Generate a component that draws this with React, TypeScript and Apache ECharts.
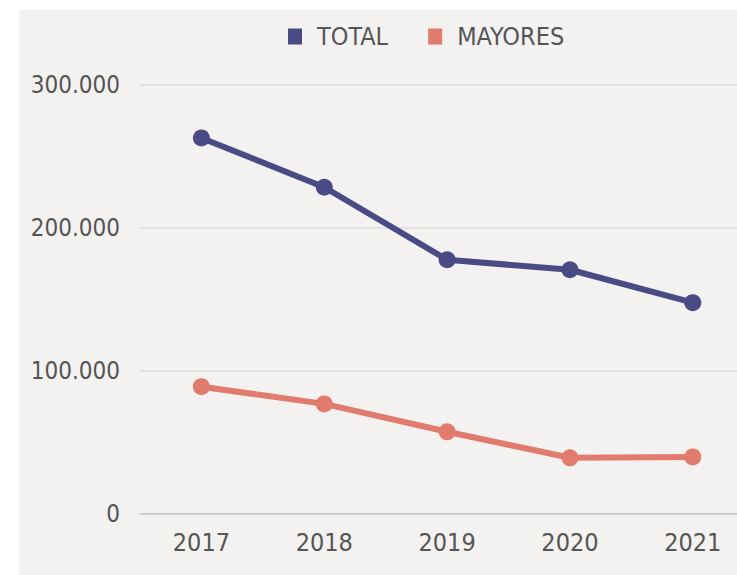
import React, { useEffect, useRef } from "react";
import * as echarts from "echarts";

const years = [2017, 2018, 2019, 2020, 2021];
const totalValues = [263000, 228500, 177800, 170800, 147800];
const mayoresValues = [89000, 77000, 57500, 39300, 39900];
const yTicks = [0, 100000, 200000, 300000];
const seriesNames = ["TOTAL", "MAYORES"];

const FONT = "'DejaVu Sans Condensed', sans-serif";

function fmt(v: number): string {
  return String(Math.round(v)).replace(/\B(?=(\d{3})+(?!\d))/g, ".");
}

export default function App() {
  const ref = useRef<HTMLDivElement>(null);
  useEffect(() => {
    if (!ref.current) return;
    const chart = echarts.init(ref.current, null, { renderer: "svg" });
    chart.setOption({
      animation: false,
      backgroundColor: "#ffffff",
      graphic: [
        {
          type: "rect",
          z: -10,
          silent: true,
          shape: { x: 19, y: 10, width: 718, height: 565 },
          style: { fill: "#f3f2f1" },
        },
      ],
      legend: {
        data: seriesNames,
        left: 288,
        top: 24,
        padding: 0,
        icon: "rect",
        itemWidth: 14,
        itemHeight: 16,
        itemGap: 40,
        textStyle: {
          fontFamily: FONT,
          fontSize: 25,
          color: "#555555",
          padding: [0, 0, 0, 10],
        },
      },
      grid: { left: 140, right: 0, top: 85, bottom: 61, containLabel: false },
      xAxis: {
        type: "value",
        min: 2016.5,
        max: 2021.36,
        splitLine: { show: false },
        axisTick: { show: false },
        axisLine: { show: true, lineStyle: { color: "#c8c6c4", width: 1.5 } },
        axisLabel: {
          customValues: years,
          formatter: (v: number) => String(v),
          fontFamily: FONT,
          fontSize: 25,
          color: "#555555",
          margin: 16,
        },
      },
      yAxis: {
        type: "value",
        min: 0,
        max: 300000,
        interval: 100000,
        axisLine: { show: false },
        axisTick: { show: false },
        splitLine: { show: true, lineStyle: { color: "#dedcda", width: 1.5 } },
        axisLabel: {
          customValues: yTicks,
          formatter: (v: number) => fmt(v),
          fontFamily: FONT,
          fontSize: 24,
          color: "#555555",
          margin: 20,
        },
      },
      series: [
        {
          name: seriesNames[0],
          type: "line",
          data: years.map((y, i) => [y, totalValues[i]]),
          symbol: "circle",
          symbolSize: 17,
          lineStyle: { width: 6, color: "#4a4a84" },
          itemStyle: { color: "#4a4a84" },
        },
        {
          name: seriesNames[1],
          type: "line",
          data: years.map((y, i) => [y, mayoresValues[i]]),
          symbol: "circle",
          symbolSize: 17,
          lineStyle: { width: 6, color: "#e07b6d" },
          itemStyle: { color: "#e07b6d" },
        },
      ],
    });
    return () => chart.dispose();
  }, []);
  return (
    <div
      ref={ref}
      style={{ position: "fixed", left: 0, top: 0, width: 737, height: 575 }}
    />
  );
}
